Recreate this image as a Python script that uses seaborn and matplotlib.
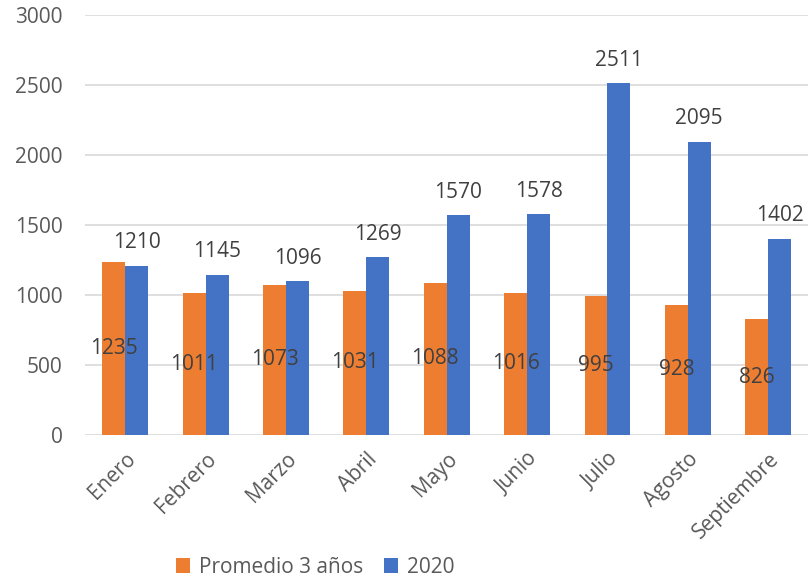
import numpy as np
import pandas as pd
import matplotlib
matplotlib.use("Agg")
import matplotlib.pyplot as plt
import seaborn as sns

meses = ["Enero", "Febrero", "Marzo", "Abril", "Mayo", "Junio", "Julio", "Agosto", "Septiembre"]
promedio = [1235, 1011, 1073, 1031, 1088, 1016, 995, 928, 826]
anio_2020 = [1210, 1145, 1096, 1269, 1570, 1578, 2511, 2095, 1402]
series = ["Promedio 3 años", "2020"]
colores = ["#ED7D31", "#4472C4"]

df = pd.DataFrame({
    "mes": meses * 2,
    "valor": promedio + anio_2020,
    "serie": [series[0]] * len(meses) + [series[1]] * len(meses),
})

sns.set_style("white")
plt.rcParams["font.family"] = ["Open Sans", "DejaVu Sans"]

fig = plt.figure(figsize=(8.1, 5.76), dpi=100)
ax = fig.add_axes([0.105, 0.245, 0.893, 0.729])

sns.barplot(data=df, x="mes", y="valor", hue="serie", palette=colores,
            width=0.57, saturation=1, ax=ax, edgecolor="none")

ax.bar_label(ax.containers[0], label_type="center", fontsize=15, color="#404040")
ax.bar_label(ax.containers[1], padding=9, fontsize=15, color="#404040")

ax.set_ylim(0, 3000)
ax.set_yticks(range(0, 3001, 500))
ax.yaxis.grid(True, color="#D9D9D9", linewidth=1.2)
ax.set_axisbelow(True)
for s in ax.spines.values():
    s.set_visible(False)
ax.set_xlabel("")
ax.set_ylabel("")
ax.tick_params(axis="both", length=0, labelsize=15, labelcolor="#595959")
ax.tick_params(axis="y", pad=16)
ax.tick_params(axis="x", pad=10)
plt.setp(ax.get_xticklabels(), rotation=45, ha="right", rotation_mode="anchor")
ax.set_xlim(-0.5, len(meses) - 0.5)

ax.legend(loc="upper center", bbox_to_anchor=(0.318, -0.245), ncol=2, frameon=False,
          fontsize=15, labelcolor="#595959", handlelength=0.7, handleheight=0.7,
          handletextpad=0.4, columnspacing=1.0)

fig.savefig("out.png", dpi=100)
